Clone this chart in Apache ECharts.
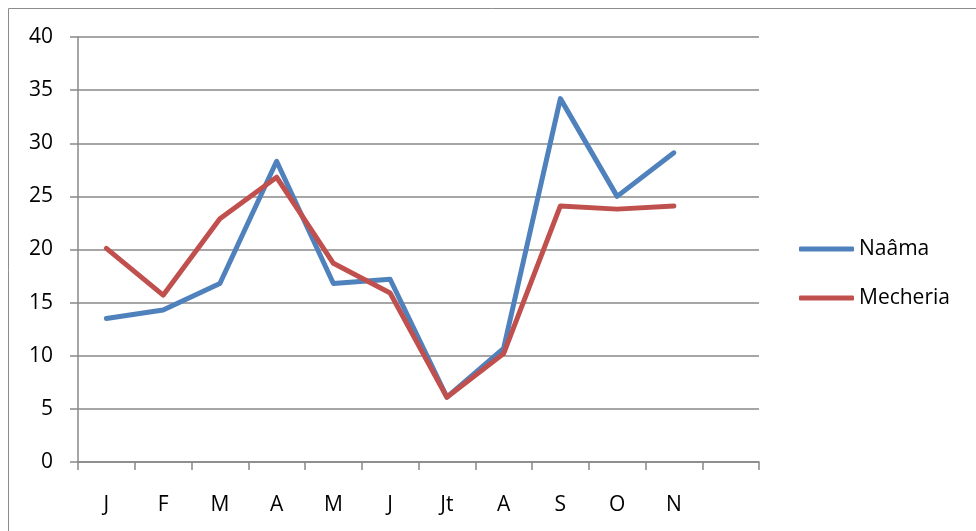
<!DOCTYPE html>
<html>
<head>
<meta charset="utf-8">
<script src="https://cdn.jsdelivr.net/npm/echarts@6/dist/echarts.min.js"></script>
<style>
  html, body { margin: 0; padding: 0; background: #fff; }
  #chart { width: 976px; height: 531px; }
</style>
</head>
<body>
<div id="chart"></div>
<script>
// Monthly values for the two stations
const months = ['J', 'F', 'M', 'A', 'M', 'J', 'Jt', 'A', 'S', 'O', 'N', ''];
const naama = [13.5, 14.3, 16.8, 28.3, 16.8, 17.2, 6.1, 10.7, 34.2, 25.0, 29.1];
const mecheria = [20.1, 15.7, 22.9, 26.8, 18.7, 15.9, 6.1, 10.2, 24.1, 23.8, 24.1];
const yTicks = { min: 0, max: 40, interval: 5 };

const chart = echarts.init(document.getElementById('chart'));
const font = 'Open Sans';
const gridColor = '#888888';

chart.setOption({
  animation: false,
  textStyle: { fontFamily: font },
  graphic: [{
    type: 'rect',
    shape: { x: 8.5, y: 8.5, width: 1100, height: 700 },
    style: { fill: 'none', stroke: '#8c8c8c', lineWidth: 1 },
    silent: true
  }],
  grid: { left: 78, right: 217, top: 37, bottom: 69, containLabel: false },
  legend: {
    orient: 'vertical',
    left: 794,
    top: 233,
    icon: 'roundRect',
    itemWidth: 55,
    itemHeight: 5,
    itemGap: 27,
    textStyle: { fontFamily: font, fontSize: 21, lineHeight: 22, color: '#000' },
    data: ['Naâma', 'Mecheria']
  },
  xAxis: {
    type: 'category',
    data: months,
    boundaryGap: true,
    axisLine: { lineStyle: { color: gridColor, width: 1.5 } },
    axisTick: { show: true, length: 8, interval: 0, lineStyle: { color: gridColor, width: 1.5 } },
    axisLabel: { interval: 0, margin: 33, fontSize: 21, color: '#000', fontFamily: font }
  },
  yAxis: {
    type: 'value',
    min: yTicks.min,
    max: yTicks.max,
    interval: yTicks.interval,
    axisLine: { show: true, lineStyle: { color: gridColor, width: 1.5 } },
    axisTick: { show: true, length: 8, lineStyle: { color: gridColor, width: 1.5 } },
    axisLabel: { margin: 25, fontSize: 21, color: '#000', fontFamily: font },
    splitLine: { show: true, lineStyle: { color: gridColor, width: 1.5 } }
  },
  series: [
    {
      name: 'Naâma',
      type: 'line',
      data: naama,
      symbol: 'none',
      color: '#4F81BD',
      lineStyle: { width: 5, color: '#4F81BD', cap: 'round', join: 'round' }
    },
    {
      name: 'Mecheria',
      type: 'line',
      data: mecheria,
      symbol: 'none',
      color: '#C0504D',
      lineStyle: { width: 5, color: '#C0504D', cap: 'round', join: 'round' }
    }
  ]
});
</script>
</body>
</html>
